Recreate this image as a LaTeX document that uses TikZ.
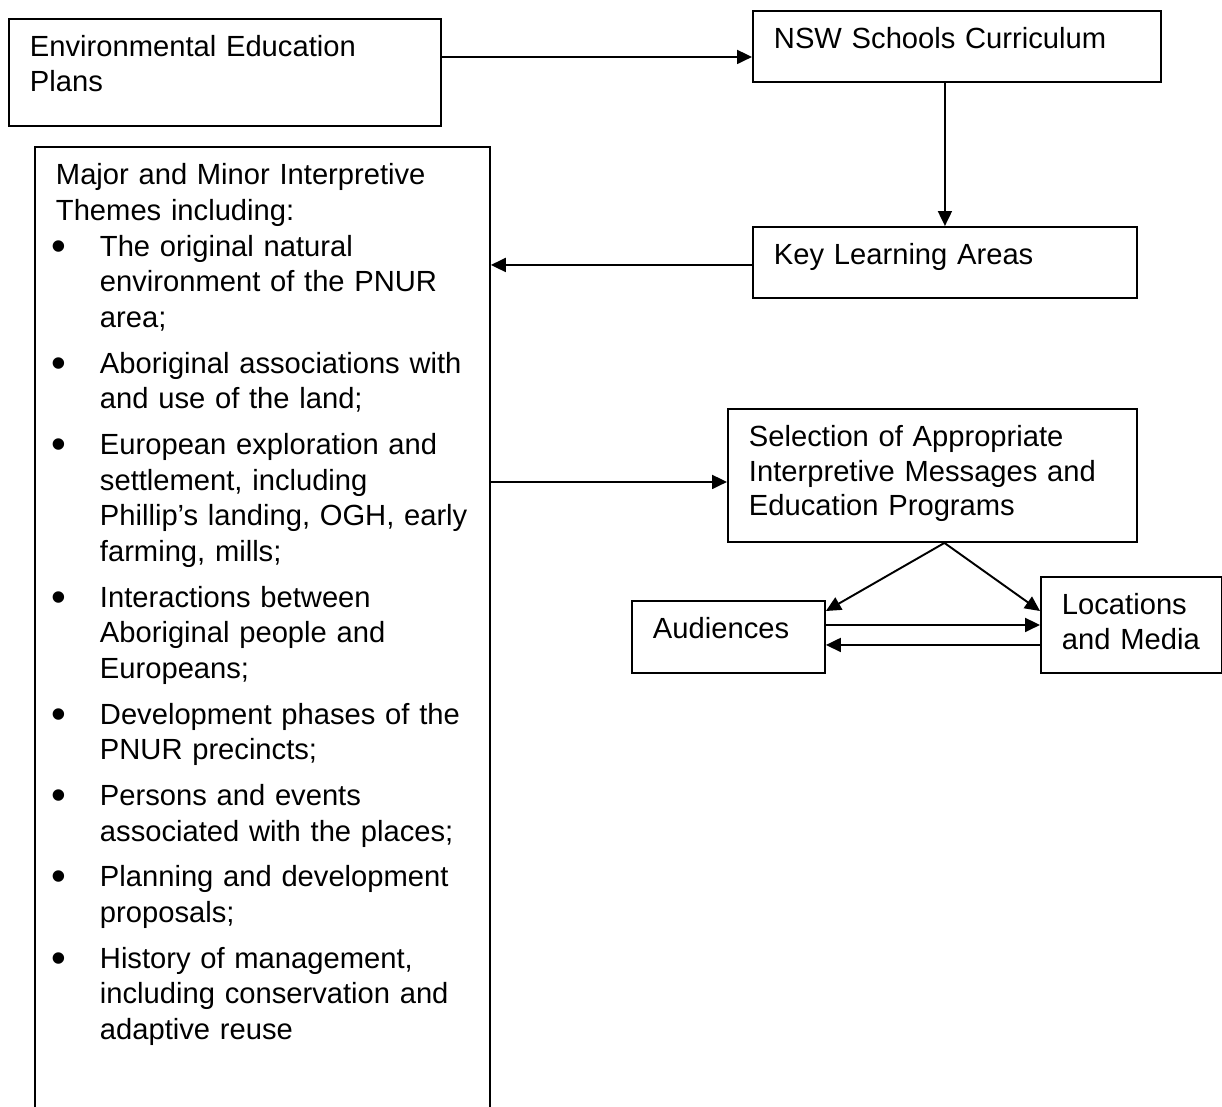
\documentclass[tikz,border=0pt]{standalone}
\usepackage{fontspec}
\setmainfont{Liberation Sans}
\usetikzlibrary{arrows.meta}

% one bulleted theme, lines broken by hand
\newcommand{\theme}[1]{\noindent\llap{\makebox[0.88cm][l]{\hspace{-0.08cm}\raisebox{-0.08cm}{\fontsize{24}{24}\selectfont\textbullet}}}#1\par\vskip 0.2cm}

\begin{document}
\begin{tikzpicture}[x=0.02cm,y=-0.02cm,
  font=\fontsize{16.6}{19.45}\selectfont,
  box/.style={draw, line width=1.1pt, anchor=north west, align=left,
    inner xsep=0.42cm, inner ysep=0.32cm, text height=0.44cm},
  link/.style={line width=1.1pt, -{Triangle[length=0.3cm,width=0.28cm]}}]

\clip (0,0) rectangle (1222,1106);

\node[box, text width=7.80cm, text depth=1.06cm] (plans) at (8,18) {Environmental Education\\ Plans};
\node[box, text width=7.32cm, text depth=0.34cm] (curriculum) at (752,10) {NSW Schools Curriculum};
\node[box, text width=6.84cm, text depth=0.34cm] (kla) at (752,226) {Key Learning Areas};

% the themes box runs on past the lower edge
\node[box, text width=8.26cm, text depth=18.6cm, font=\fontsize{16.6}{20.3}\selectfont] (themes) at (34,146) {Major and Minor Interpretive\\
  Themes including:\par
  \leftskip=0.88cm
  \theme{The original natural\\ environment of the PNUR\\ area;}
  \theme{Aboriginal associations with\\ and use of the land;}
  \theme{European exploration and\\ settlement, including\\ Phillip’s landing, OGH, early\\ farming, mills;}
  \theme{Interactions between\\ Aboriginal people and\\ Europeans;}
  \theme{Development phases of the\\ PNUR precincts;}
  \theme{Persons and events\\ associated with the places;}
  \theme{Planning and development\\ proposals;}
  \theme{History of management,\\ including conservation and\\ adaptive reuse}};

\node[box, text width=7.34cm, text depth=1.58cm] (selection) at (727,408) {Selection of Appropriate\\ Interpretive Messages and\\ Education Programs};
\node[box, text width=3.02cm, text depth=0.36cm] (audiences) at (631,600) {Audiences};
\node[box, text width=2.78cm, text depth=0.84cm] (media) at (1040,576) {Locations\\ and Media};

\draw[link] (plans.base east) -- (plans.base east -| curriculum.west);
\draw[link] (curriculum.south -| kla.north) -- (kla.north);
\draw[link] (kla.base west) -- (kla.base west -| themes.east);

\coordinate (in) at ([yshift=-0.13cm]selection.west);
\draw[link] (in -| themes.east) -- (in);

\coordinate (fork) at ([xshift=0.24cm]selection.south);
\draw[link] (fork) -- ([yshift=-0.22cm]audiences.north east);
\draw[link] (fork) -- ([yshift=-0.7cm]media.north west);

\coordinate (back) at ([yshift=-0.4cm]media.west);
\draw[link] (audiences.east |- media.west) -- (media.west);
\draw[link] (back) -- (back -| audiences.east);

\end{tikzpicture}
\end{document}
